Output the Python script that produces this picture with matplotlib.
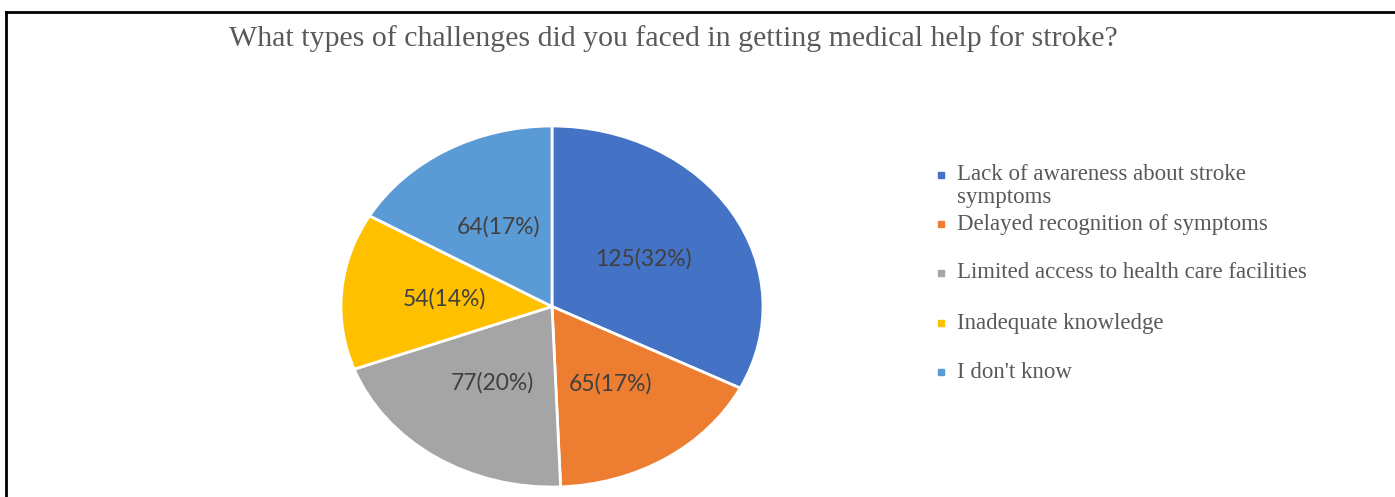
import numpy as np
import matplotlib.pyplot as plt
from matplotlib.lines import Line2D

title = "What types of challenges did you faced in getting medical help for stroke?"
categories = [
    "Lack of awareness about stroke\nsymptoms",
    "Delayed recognition of symptoms",
    "Limited access to health care facilities",
    "Inadequate knowledge",
    "I don't know",
]
counts = [125, 65, 77, 54, 64]
percents = [32, 17, 20, 14, 17]
colors = ["#4472C4", "#ED7D31", "#A5A5A5", "#FFC000", "#5B9BD5"]

W, H = 1395, 497
fig = plt.figure(figsize=(W / 100, H / 100), dpi=100)

# pie drawn as a slightly wide ellipse like the reference
ax = fig.add_axes([341 / W, (H - 487) / H, 422 / W, 361 / H])
wedges, _ = ax.pie(counts, colors=colors, startangle=90, counterclock=False,
                   radius=1, wedgeprops=dict(edgecolor="white", linewidth=2))
ax.set_aspect("auto")
ax.set_xlim(-1, 1)
ax.set_ylim(-1, 1)

total = sum(counts)
cum = 0
for c, p in zip(counts, percents):
    mid = np.deg2rad(90 - (cum + c / 2) / total * 360)
    cum += c
    ax.text(0.51 * np.cos(mid), 0.51 * np.sin(mid),
            f"{c}({p}%)", ha="center", va="center", fontsize=16.5,
            color="#404040", family="Lato")

fig.text(673 / W, 1 - 39 / H, title, ha="center", va="center",
         fontsize=21.5, color="#595959", family="Liberation Serif")

# legend entries
leg_y = [175, 224, 273, 323, 372]
for lab, col, y in zip(categories, colors, leg_y):
    fig.patches.append(plt.Rectangle(((941 - 3) / W, 1 - (y + 3) / H), 6 / W, 6 / H,
                                     transform=fig.transFigure, color=col))
    fig.text(957 / W, 1 - y / H, lab.split("\n")[0], ha="left", va="center",
             fontsize=16.5, color="#595959", family="Liberation Serif")
    if "\n" in lab:
        fig.text(957 / W, 1 - (y + 23) / H, lab.split("\n")[1], ha="left",
                 va="center", fontsize=16.5, color="#595959",
                 family="Liberation Serif")

# frame lines (top and left)
fig.add_artist(Line2D([6 / W, 1], [1 - 12 / H, 1 - 12 / H], color="black", lw=2,
                      transform=fig.transFigure))
fig.add_artist(Line2D([6 / W, 6 / W], [0, 1 - 12 / H], color="black", lw=2,
                      transform=fig.transFigure))

fig.savefig("out.png", dpi=100, facecolor="white")
